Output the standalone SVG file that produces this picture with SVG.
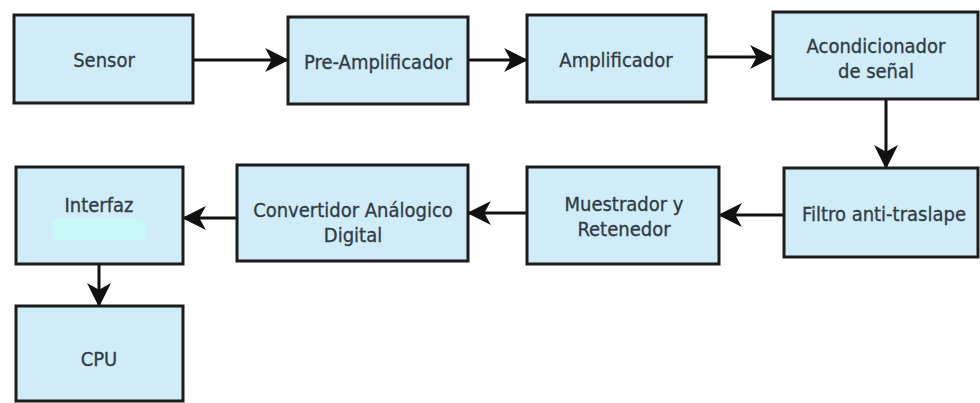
<svg xmlns="http://www.w3.org/2000/svg" width="980" height="403" viewBox="0 0 980 403">
  <style>
    .box { fill: #cfecf8; stroke: #1c1c1c; stroke-width: 3; }
    .lbl { font-family: "DejaVu Sans Condensed", "DejaVu Sans", "Liberation Sans", sans-serif; font-size: 20px; fill: #2f3b45; stroke: #2f3b45; stroke-width: 0.3; text-anchor: middle; }
    .wire { stroke: #111; stroke-width: 3; fill: none; marker-end: url(#head); }
    .glow { fill: #c8f8f8; }
  </style>
  <defs>
    <marker id="head" markerUnits="userSpaceOnUse" markerWidth="24" markerHeight="24" viewBox="0 0 22 22" refX="21" refY="11" orient="auto">
      <path d="M0,0 L22,11 L0,22 L6,11 Z" fill="#111"/>
    </marker>
  </defs>
  <rect width="980" height="403" fill="#ffffff"/>

  <g id="connectors">
    <line class="wire" x1="193" y1="60" x2="288" y2="60"/>
    <line class="wire" x1="468" y1="60" x2="527" y2="60"/>
    <line class="wire" x1="706" y1="57" x2="773" y2="57"/>
    <line class="wire" x1="886" y1="99" x2="886" y2="168"/>
    <line class="wire" x1="784" y1="215" x2="719" y2="215"/>
    <line class="wire" x1="527" y1="213" x2="468" y2="213"/>
    <line class="wire" x1="237" y1="218" x2="183" y2="218"/>
    <line class="wire" x1="99" y1="264" x2="99" y2="306"/>
  </g>

  <g id="sensor">
    <rect class="box" x="14" y="15" width="179" height="88"/>
    <text class="lbl" x="104" y="67">Sensor</text>
  </g>
  <g id="pre-amplificador">
    <rect class="box" x="288" y="17" width="180" height="87"/>
    <text class="lbl" x="378" y="69">Pre-Amplificador</text>
  </g>
  <g id="amplificador">
    <rect class="box" x="527" y="15" width="179" height="87"/>
    <text class="lbl" x="616" y="67">Amplificador</text>
  </g>
  <g id="acondicionador">
    <rect class="box" x="773" y="12" width="205" height="87"/>
    <text class="lbl" x="876" y="53">Acondicionador</text>
    <text class="lbl" x="876" y="78">de señal</text>
  </g>
  <g id="filtro">
    <rect class="box" x="784" y="168" width="194" height="89"/>
    <text class="lbl" x="884" y="221">Filtro anti-traslape</text>
  </g>
  <g id="muestreador">
    <rect class="box" x="527" y="167" width="192" height="97"/>
    <text class="lbl" x="624" y="211">Muestrador y</text>
    <text class="lbl" x="624" y="236">Retenedor</text>
  </g>
  <g id="convertidor">
    <rect class="box" x="237" y="165" width="231" height="96"/>
    <text class="lbl" x="353" y="217">Convertidor Análogico</text>
    <text class="lbl" x="353" y="242">Digital</text>
  </g>
  <g id="interfaz">
    <rect class="box" x="16" y="167" width="167" height="97"/>
    <rect class="glow" x="52" y="219" width="93" height="21" rx="4"/>
    <text class="lbl" x="99" y="212">Interfaz</text>
  </g>
  <g id="cpu">
    <rect class="box" x="16" y="306" width="167" height="95"/>
    <text class="lbl" x="99" y="366">CPU</text>
  </g>
</svg>
